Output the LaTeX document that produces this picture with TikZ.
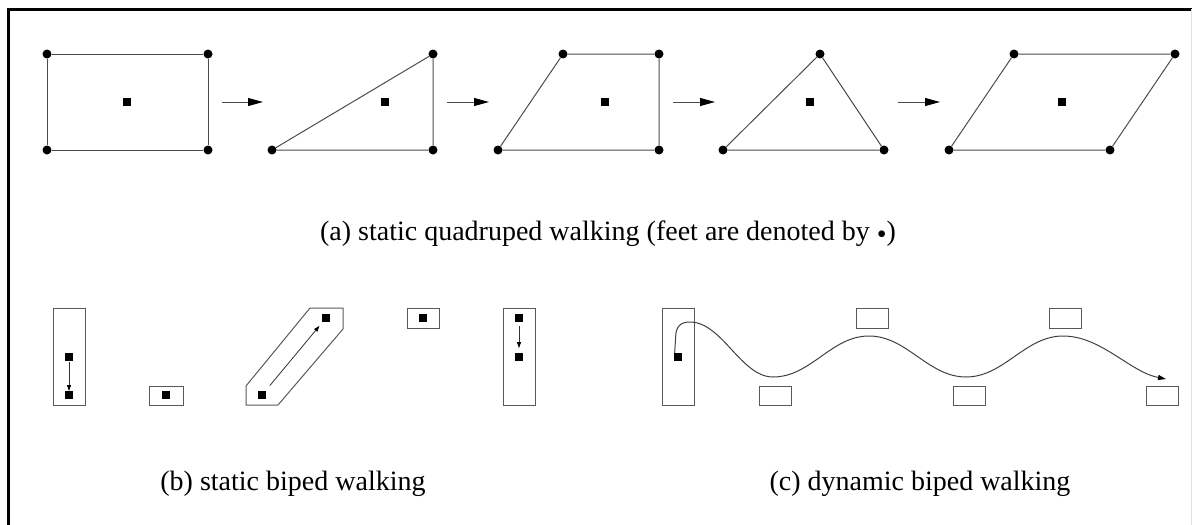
\documentclass[tikz,border=0pt]{standalone}
\usepackage{fontspec}
\setmainfont{Liberation Serif}
\usetikzlibrary{arrows.meta}
\begin{document}
\begin{tikzpicture}[x=1pt,y=-1pt,
  foot/.style={circle,fill=black,inner sep=0pt,minimum size=9pt},
  cog/.style={rectangle,fill=black,inner sep=0pt,minimum size=7.5pt},
  bcog/.style={rectangle,fill=black,inner sep=0pt,minimum size=7.5pt},
  edge/.style={draw=black!70,line width=1pt},
  sole/.style={draw=black!65,line width=1pt,inner sep=0pt},
  bigarrow/.style={draw=black!70,line width=1pt,-{Triangle[length=15pt,width=8pt,color=black]}},
  smallarrow/.style={draw=black!80,line width=0.8pt,-{Triangle[length=6pt,width=4pt,color=black]}},
  caption/.style={font=\fontsize{28}{32}\selectfont,anchor=base,inner sep=0pt}
]
\useasboundingbox (0,0) rectangle (1192,525);
% frame
\draw[line width=3pt] (8,525) -- (8,9) -- (1192,9);
\draw[black!12,line width=1pt] (1191,9) -- (1191,525);

% ---- (a) static quadruped walking ----
% shape 1: rectangle
\node[foot] (a1) at (47,54) {};
\node[foot] (a2) at (208,54) {};
\node[foot] (a3) at (208,150) {};
\node[foot] (a4) at (47,150) {};
\node[cog] (ac1) at (127,102) {};
\draw[edge] (a1) -- (a2) -- (a3) -- (a4) -- (a1);
% shape 2: triangle
\node[foot] (b1) at (433,54) {};
\node[foot] (b2) at (433,150) {};
\node[foot] (b3) at (272,150) {};
\node[cog] (bc1) at (385,102) {};
\draw[edge] (b1) -- (b2) -- (b3) -- (b1);
% shape 3: trapezoid
\node[foot] (c1) at (563,54) {};
\node[foot] (c2) at (659,54) {};
\node[foot] (c3) at (659,150) {};
\node[foot] (c4) at (498,150) {};
\node[cog] (cc1) at (605,102) {};
\draw[edge] (c1) -- (c2) -- (c3) -- (c4) -- (c1);
% shape 4: triangle
\node[foot] (d1) at (820,54) {};
\node[foot] (d2) at (884,150) {};
\node[foot] (d3) at (723,150) {};
\node[cog] (dc1) at (810,102) {};
\draw[edge] (d1) -- (d2) -- (d3) -- (d1);
% shape 5: parallelogram
\node[foot] (e1) at (1014,54) {};
\node[foot] (e2) at (1175,54) {};
\node[foot] (e3) at (1110,150) {};
\node[foot] (e4) at (949,150) {};
\node[cog] (ec1) at (1062,102) {};
\draw[edge] (e1) -- (e2) -- (e3) -- (e4) -- (e1);
% arrows between stages
\coordinate (r1s) at (222,102); \coordinate (r1e) at (263,102);
\coordinate (r2s) at (447,102); \coordinate (r2e) at (489,102);
\coordinate (r3s) at (673,102); \coordinate (r3e) at (715,102);
\coordinate (r4s) at (898,102); \coordinate (r4e) at (940,102);
\draw[bigarrow] (r1s) -- (r1e);
\draw[bigarrow] (r2s) -- (r2e);
\draw[bigarrow] (r3s) -- (r3e);
\draw[bigarrow] (r4s) -- (r4e);

\node[caption] (capa) at (608,240) {(a) static quadruped walking (feet are denoted by \raisebox{-3pt}{•})};

% ---- (b) static biped walking ----
\node[sole,minimum width=32pt,minimum height=97pt] (f1) at (69,356.5) {};
\node[bcog] (p1) at (69,357) {};
\node[bcog] (p2) at (69,395) {};
\draw[smallarrow,shorten <=1pt,shorten >=0pt] (p1) -- (p2);

\node[sole,minimum width=34pt,minimum height=19pt] (f2) at (166,395.5) {};
\node[bcog] (p3) at (166,395) {};

\draw[sole] (246,386) -- (310,308) -- (343,308) -- (343,329) -- (278,405) -- (246,405) -- cycle;
\node[bcog] (p4) at (262,395) {};
\node[bcog] (p5) at (326,318) {};
\draw[smallarrow,shorten <=7pt,shorten >=5pt] (p4) -- (p5);

\node[sole,minimum width=32pt,minimum height=20pt] (f3) at (423,318) {};
\node[bcog] (p6) at (423,318) {};

\node[sole,minimum width=32pt,minimum height=97pt] (f4) at (519,356.5) {};
\node[bcog] (p7) at (519,318) {};
\node[bcog] (p8) at (519,357) {};
\draw[smallarrow,shorten <=4pt,shorten >=5pt] (p7) -- (p8);

\node[caption] (capb) at (293,490) {(b) static biped walking};

% ---- (c) dynamic biped walking ----
\node[sole,minimum width=32pt,minimum height=97pt] (g1) at (678,356.5) {};
\node[bcog] (q1) at (678,357) {};
\node[sole,minimum width=32pt,minimum height=20pt] (g2) at (872,318) {};
\node[sole,minimum width=32pt,minimum height=20pt] (g3) at (1065,318) {};
\node[sole,minimum width=32pt,minimum height=19pt] (g4) at (775,395.5) {};
\node[sole,minimum width=32pt,minimum height=19pt] (g5) at (969,395.5) {};
\node[sole,minimum width=32pt,minimum height=19pt] (g6) at (1162,395.5) {};
\coordinate (tip) at (1166,379);
\draw[draw=black!75,line width=1pt,-{Triangle[length=8pt,width=5pt,color=black]}]
  ([xshift=0.6pt]q1.north west) -- (675.6,338)
  .. controls (675.6,326) and (681,322) .. (690,322)
  .. controls (722,322) and (741,377) .. (773,377)
  .. controls (811,377) and (831,336) .. (869,336)
  .. controls (907,336) and (928,377) .. (966,377)
  .. controls (1004,377) and (1025,336) .. (1063,336)
  .. controls (1101,336) and (1130,372) .. (tip);

\node[caption] (capc) at (920,490) {(c) dynamic biped walking};
\end{tikzpicture}
\end{document}
